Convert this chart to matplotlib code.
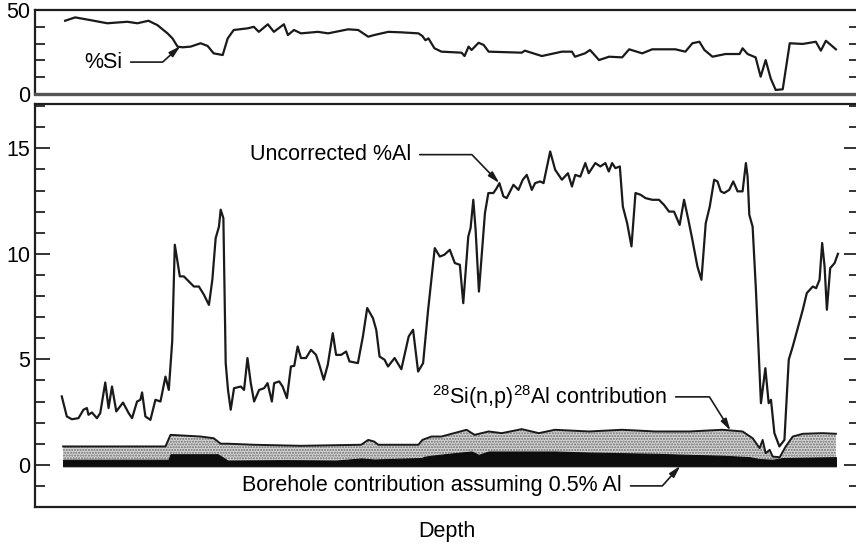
#!/usr/bin/env python3
"""Borehole log: %Si (top strip) and uncorrected %Al with the Si(n,p) and
borehole contributions shaded underneath. Writes out.png."""
import matplotlib
matplotlib.use("Agg")
import matplotlib.pyplot as plt
plt.rcParams.update({
    "font.family": ["Liberation Sans", "DejaVu Sans"], "font.size": 15.5,
    "mathtext.default": "regular",
    "axes.linewidth": 1.6, "axes.edgecolor": "#1e1e1e",
    "hatch.linewidth": 1.0, "hatch.color": "#6f6f6f",
    "lines.solid_joinstyle": "round",
})

# depth in arbitrary log units (no scale shown on the original)
SI_DEPTH = [30, 40, 55, 72, 92, 102, 113, 122, 132, 137, 142, 147, 155, 165, 172, 178, 187, 192,
            198, 212, 218, 223, 232, 238, 248, 252, 258, 265, 282, 292, 312, 322, 332, 338, 352,
            365, 382, 386, 389, 392, 398, 405, 425, 428, 432, 435, 442, 447, 452, 485, 488, 505,
            525, 535, 538, 548, 553, 562, 572, 585, 592, 605, 615, 638, 648, 655, 662, 667, 675,
            688, 702, 705, 710, 718, 723, 728, 733, 738, 745, 752, 765, 778, 783, 788, 798]
SI_PCT = [43.6, 45.6, 44.0, 42.1, 43.0, 42.1, 43.6, 41.0, 36.1, 33.1, 28.2, 27.8, 28.2, 30.2, 28.6,
          24.2, 23.2, 33.1, 38.1, 39.1, 40.0, 37.0, 41.5, 37.0, 41.5, 35.1, 38.1, 36.1, 37.0, 36.1,
          38.5, 38.1, 34.1, 35.1, 37.0, 36.7, 36.1, 34.5, 32.0, 33.1, 27.2, 25.2, 24.6, 22.6, 28.2,
          26.2, 30.5, 29.2, 25.2, 24.6, 25.8, 22.6, 25.2, 25.2, 22.2, 24.2, 26.2, 20.2, 22.2, 21.8,
          26.6, 24.2, 26.6, 26.6, 25.2, 30.2, 31.1, 26.2, 22.2, 23.8, 23.8, 27.2, 23.8, 21.8, 10.3,
          20.2, 9.3, 2.4, 2.8, 30.2, 29.8, 31.1, 25.8, 31.7, 26.6]

AL_DEPTH = [26.7, 31.7, 36.7, 43.3, 48.3, 51.7, 53.3, 56.7, 61.7, 65, 70, 73.3, 76.7, 81, 87.7,
            93.3, 96.7, 101.7, 105, 106.7, 110, 115, 120, 125, 130, 133.3, 136.7, 139.3, 144.3,
            148.3, 153.3, 158.3, 163.3, 168.3, 173.3, 176.7, 180, 183.3, 185, 187.7, 190, 192.3,
            195, 198.3, 205, 208.3, 211.7, 215, 218.3, 223.3, 228.3, 231.7, 236, 238.3, 243.3,
            246.7, 251, 255, 258.3, 261.7, 265, 270, 275, 280, 283.3, 287.7, 291.7, 296.7, 300,
            305, 310, 313.3, 321.7, 326.7, 331, 336.7, 340, 343.3, 348.3, 351.7, 358.3, 365,
            372.3, 376.7, 381.7, 386.7, 391.7, 398.3, 403.3, 407.7, 413.3, 418.3, 423.3, 426.7,
            431.7, 434, 436.7, 439, 442.3, 448.3, 451.7, 456.7, 460, 462.7, 466.7, 470, 476.7,
            481.7, 486, 490, 495, 498.3, 503.3, 506.7, 513.3, 518.3, 525, 531, 535, 538.3, 543.3,
            548.3, 551.7, 558.3, 563.3, 568.3, 571.7, 575, 578.3, 582.7, 585.7, 590, 594.3, 598.3,
            603.3, 608.3, 615, 621.7, 626.7, 631.7, 636.7, 642.3, 646.7, 651, 655, 660, 664,
            668.3, 672.3, 676.7, 680, 683.3, 686.7, 691.7, 695.7, 700, 705, 708.3, 710, 711.7,
            715, 718.3, 723.3, 727.7, 731, 733.3, 736.7, 741.7, 746.7, 751, 755, 760, 765, 769,
            775, 778.3, 781.7, 784.3, 786.7, 789, 792.3, 796.7, 800]
AL_PCT = [3.24, 2.29, 2.16, 2.21, 2.61, 2.69, 2.37, 2.48, 2.21, 2.45, 3.9, 2.69, 3.71, 2.53, 2.95,
          2.45, 2.21, 3.0, 3.08, 3.43, 2.29, 2.13, 3.08, 3.0, 4.18, 3.55, 5.84, 10.43, 8.93, 8.93,
          8.69, 8.45, 8.45, 8.06, 7.58, 8.77, 10.74, 11.29, 12.09, 11.69, 4.82, 3.55, 2.61, 3.63,
          3.71, 3.55, 5.06, 3.87, 3.0, 3.55, 3.63, 3.87, 3.0, 3.87, 3.95, 3.71, 3.16, 4.66, 4.69,
          5.61, 5.06, 5.06, 5.45, 5.21, 4.74, 4.03, 4.74, 6.24, 5.21, 5.21, 5.37, 4.9, 4.82, 6.08,
          7.43, 6.95, 6.4, 5.13, 4.98, 4.66, 5.06, 4.53, 6.08, 6.4, 4.42, 4.82, 7.35, 10.27, 9.87,
          9.95, 10.19, 9.56, 9.48, 7.66, 10.82, 11.22, 12.56, 11.14, 8.21, 11.93, 12.88, 12.88,
          13.11, 13.35, 12.72, 12.64, 13.27, 13.03, 13.51, 13.74, 13.03, 13.35, 13.43, 13.35,
          14.85, 13.98, 13.51, 13.82, 13.19, 13.74, 13.66, 14.3, 13.82, 14.3, 14.14, 14.3, 13.9,
          14.3, 14.06, 14.14, 12.24, 11.45, 10.35, 12.88, 12.8, 12.64, 12.56, 12.56, 12.32, 12.0,
          12.0, 11.37, 12.56, 11.61, 10.66, 9.4, 8.77, 11.45, 12.24, 13.51, 13.43, 12.96, 12.88,
          13.03, 13.43, 12.96, 12.96, 14.3, 13.66, 11.85, 11.29, 8.29, 2.92, 4.58, 2.92, 3.08,
          1.5, 0.87, 1.18, 4.98, 5.61, 6.48, 7.35, 8.14, 8.45, 8.37, 8.77, 10.51, 9.4, 7.35, 9.32,
          9.56, 10.0]

# 28Si(n,p)28Al contribution (top of stippled band)
SINP_DEPTH = [28, 130, 135, 165, 178, 185, 192, 218, 265, 325, 332, 338, 342, 382, 386, 395, 405,
              430, 438, 452, 465, 485, 502, 518, 552, 585, 618, 652, 685, 705, 715, 722, 725, 728,
              732, 735, 742, 748, 755, 765, 785, 798]
SINP_PCT = [0.87, 0.87, 1.42, 1.34, 1.26, 1.0, 1.0, 0.95, 0.9, 0.95, 1.18, 1.1, 0.95, 0.95, 1.18,
            1.34, 1.34, 1.66, 1.42, 1.58, 1.5, 1.69, 1.5, 1.66, 1.58, 1.66, 1.58, 1.58, 1.66, 1.58,
            1.26, 0.79, 1.18, 0.55, 0.71, 0.39, 0.36, 0.87, 1.34, 1.47, 1.5, 1.47]

# borehole contribution assuming 0.5% Al (black band)
BH_DEPTH = [28, 133, 135, 182, 192, 250, 300, 325, 338, 385, 388, 395, 418, 435, 442, 452, 485,
            518, 552, 585, 618, 652, 685, 712, 722, 735, 745, 798]
BH_PCT = [0.24, 0.24, 0.5, 0.5, 0.2, 0.22, 0.2, 0.3, 0.25, 0.32, 0.38, 0.43, 0.55, 0.63, 0.47,
          0.63, 0.63, 0.63, 0.58, 0.55, 0.52, 0.47, 0.43, 0.36, 0.27, 0.24, 0.32, 0.36]

INK = "#1a1a1a"
ARROW = dict(arrowstyle="-|>,head_length=0.45,head_width=0.12", color=INK, lw=1.2,
             shrinkA=4, shrinkB=0)


def style_axes(ax):
    ax.tick_params(axis="y", which="both", direction="in", left=True, right=True,
                   width=1.4, color="#333333")
    ax.tick_params(axis="y", which="major", length=11)
    ax.tick_params(axis="y", which="minor", length=7)
    ax.set_xticks([])
    ax.set_xlim(0, 821)


def main():
    fig = plt.figure(figsize=(8.56, 5.43), dpi=100)
    x0, w = 35 / 856, 824 / 856
    ax_si = fig.add_axes([x0, 1 - 94 / 543, w, 84 / 543])
    ax_al = fig.add_axes([x0, 1 - 507 / 543, w, 403 / 543])

    # --- top strip: %Si ---
    ax_si.plot(SI_DEPTH, SI_PCT, color=INK, lw=1.6)
    ax_si.set_ylim(0, 50)
    ax_si.set_yticks([0, 50])
    ax_si.set_yticks([10, 20, 30, 40], minor=True)
    style_axes(ax_si)
    ax_si.spines["bottom"].set_linewidth(2.4)
    ax_si.spines["bottom"].set_color("#555555")
    ax_si.annotate("%Si", xy=(145, 28.6), xytext=(87, 19), ha="right", va="center",
                   arrowprops=dict(ARROW, connectionstyle="angle,angleA=0,angleB=42,rad=0"))

    # --- main panel: %Al ---
    ax_al.fill_between(SINP_DEPTH, 0, SINP_PCT, facecolor="#d4d4d4", edgecolor="#6f6f6f",
                       hatch="......", linewidth=0)
    ax_al.plot(SINP_DEPTH, SINP_PCT, color=INK, lw=1.4)
    ax_al.fill_between(BH_DEPTH, -0.07, BH_PCT, color="#0d0d0d", linewidth=0.8)
    ax_al.plot(AL_DEPTH, AL_PCT, color=INK, lw=1.6)
    ax_al.set_ylim(-2, 17.1)
    ax_al.set_yticks([0, 5, 10, 15])
    ax_al.set_yticks([-1, 1, 2, 3, 4, 6, 7, 8, 9, 11, 12, 13, 14, 16, 17], minor=True)
    style_axes(ax_al)
    ax_al.set_xlabel("Depth", labelpad=10)

    ax_al.annotate("Uncorrected %Al", xy=(462.7, 13.35), xytext=(375, 14.7), ha="right",
                   va="center",
                   arrowprops=dict(ARROW, connectionstyle="angle,angleA=0,angleB=-46,rad=0"))
    ax_al.annotate(r"$^{28}$Si(n,p)$^{28}$Al contribution", xy=(693, 1.62), xytext=(630, 3.22),
                   ha="right", va="center",
                   arrowprops=dict(ARROW, connectionstyle="angle,angleA=0,angleB=-58,rad=0"))
    ax_al.annotate("Borehole contribution assuming 0.5% Al", xy=(643, -0.05), xytext=(585, -1.0),
                   ha="right", va="center",
                   arrowprops=dict(ARROW, connectionstyle="angle,angleA=0,angleB=48,rad=0"))

    fig.savefig("out.png", dpi=100)
    plt.close(fig)


if __name__ == "__main__":
    main()
